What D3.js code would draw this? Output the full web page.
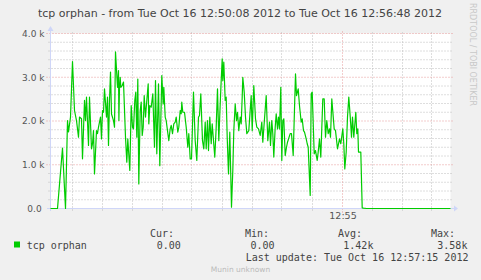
<!DOCTYPE html>
<html>
<head>
<meta charset="utf-8">
<script src="https://cdn.jsdelivr.net/npm/d3@7"></script>
<style>
  html, body { margin: 0; padding: 0; background: #f0f0f0; }
  svg { display: block; }
</style>
</head>
<body>
<div id="chart"></div>
<script>
// munin "tcp orphan" graph, 400 seconds window

const startTime = new Date(2012, 9, 16, 12, 50, 8)
const endTime = new Date(2012, 9, 16, 12, 56, 48)

// seconds after 12:50:08
const secs = [
  0, 7, 12, 15, 17, 18, 20, 22, 24, 26, 28, 29, 31, 32, 34, 35, 36, 38, 39, 41,
  42, 43, 44, 46, 47, 48, 50, 51, 52, 53, 54, 56, 57, 58, 59, 60, 61, 63, 64, 65,
  67, 68, 68.4, 69, 69.7, 70.3, 71.7, 73, 75, 76.3, 77.3, 79.3, 80.7, 82, 83, 84.3, 85.3, 86.3, 87.3, 88.3,
  89.7, 90.7, 91.7, 92.7, 93.7, 95, 96.3, 97.7, 98.3, 99.3, 100.7, 102.3, 104, 105, 106.3, 108, 109.3, 111.3, 112.7, 113.3,
  114.7, 115.7, 117, 118.3, 119.7, 120.7, 122, 123.3, 124.7, 125.7, 127.3, 128.3, 129.7, 130.7, 131.3, 132.3, 134, 135.7, 137.3, 138.3,
  139.7, 141, 143, 144.7, 146.3, 148, 149, 150.3, 152, 153.3, 154.7, 155.7, 157, 158, 159.3, 160.7, 161.7, 164.3, 165.7, 167,
  168.3, 169.7, 170.7, 171.7, 172.3, 173.3, 174.7, 175.7, 176.7, 178, 179.3, 181, 182.3, 183.3, 184.7, 186, 187, 188.3, 189.7, 190.7,
  191.7, 192.3, 193.7, 195, 196.3, 198.3, 200.7, 201.7, 203.3, 205, 206.3, 208, 209.7, 211.3, 212.3, 215.7, 217.3, 219, 220, 221.3,
  222.3, 223.3, 224.7, 225.7, 227, 228, 229, 230.3, 231.3, 232.3, 233.3, 234.7, 236, 237, 239.7, 241, 242.7, 245, 246, 247.7,
  249, 250.7, 251.7, 253, 254, 255.7, 256.7, 257.7, 259.7, 260.7, 261.7, 263.7, 265, 266.7, 267.7, 269, 270.3, 272.3, 273.7, 275,
  276.3, 277.7, 279, 280, 281.3, 283.7, 285, 287, 289, 290.3, 292.3, 293.3, 294.3, 295.7, 297, 298.3, 300, 301, 302, 303.3,
  305.3, 306.3, 307.3, 308, 310.3, 311.7, 313, 316, 400
]
const orphans = [
  0, 0, 1380, 0, 2010, 1750, 2090, 3360, 2240, 2010, 1630, 2090, 2050, 1135, 2470, 2010, 2545, 1440, 2545, 1365,
  1480, 1780, 790, 1780, 1710, 1860, 2090, 1590, 2240, 2200, 2735, 2090, 2545, 1440, 2470, 3120, 2160, 2010, 1860, 3580,
  2770, 3150, 2010, 2770, 3000, 2770, 2810, 2890, 1630, 1060, 1590, 870, 2350, 1860, 1820, 2470, 2660, 1630, 2960, 560,
  2240, 2430, 1670, 1860, 2580, 2090, 2470, 2850, 1935, 2350, 2315, 2620, 1400, 2925, 1250, 2850, 980, 3040, 2390, 2770,
  2090, 2010, 1780, 1550, 1820, 1900, 1710, 1935, 1975, 2090, 1745, 1860, 2240, 2165, 2430, 2200, 2200, 1860, 1400, 1710,
  1135, 1135, 2660, 1550, 1100, 2090, 2125, 2620, 1550, 1365, 1975, 1365, 2010, 1325, 2090, 1480, 1935, 1175, 1860, 2735,
  1550, 2390, 2925, 3420, 2925, 3345, 2470, 2545, 1630, 790, 1745, 30, 870, 1780, 2390, 2010, 2200, 1780, 2090, 1935,
  2545, 3000, 2660, 2090, 1710, 1780, 2580, 1780, 2810, 2050, 1860, 1820, 1670, 1975, 1515, 2580, 1550, 1975, 1440, 2010,
  1710, 1175, 1860, 2165, 1820, 2090, 1820, 2770, 1100, 2010, 2050, 1210, 1400, 1515, 1710, 1710, 1210, 3080, 2580, 2735,
  2350, 1975, 2050, 1780, 1745, 1590, 1480, 1400, 300, 2620, 2660, 1250, 1325, 1100, 1290, 1590, 1175, 2505, 2505, 1630,
  2010, 1710, 1820, 1630, 2505, 1820, 1780, 1365, 1590, 1480, 1820, 1480, 905, 1290, 2090, 2545, 2010, 1630, 2090, 1630,
  2200, 1710, 1820, 1290, 1290, 15, 8, 0, 0
]

const yTicks = [0, 1000, 2000, 3000, 4000]
const legendCols = ["Cur:", "Min:", "Avg:", "Max:"]
const legendVals = ["0.00", "0.00", "1.42k", "3.58k"]
const seriesName = "tcp orphan"
const seriesColor = "#00cc00"

const W = 481, H = 280

let svg = d3.select("#chart").append("svg")
    .attr("width", W)
    .attr("height", H)

svg.append("rect").attr("width", W).attr("height", H).attr("fill", "#f0f0f0")

let x = d3.scaleTime().domain([startTime, endTime]).range([50.5, 450.5])
let y = d3.scaleLinear().domain([0, 4000]).range([208.5, 33.5])

// canvas
svg.append("rect")
    .attr("x", x.range()[0]).attr("y", y.range()[1])
    .attr("width", x.range()[1] - x.range()[0])
    .attr("height", y.range()[0] - y.range()[1])
    .attr("fill", "#ffffff")

let grid = svg.append("g")
let minorY = d3.range(200, 4001, 200).filter(v => v % 1000 !== 0)
grid.selectAll(".hmin").data(minorY).join("line")
    .attr("x1", 48.5).attr("x2", 452.5)
    .attr("y1", d => y(d)).attr("y2", d => y(d))
    .attr("stroke", "#bdbdbd").attr("stroke-dasharray", "1,2")

let minorX = d3.timeSecond.every(30).range(startTime, endTime)
    .filter(d => d.getMinutes() % 5 !== 0 || d.getSeconds() !== 0)
grid.selectAll(".vmin").data(minorX).join("line")
    .attr("x1", d => Math.round(x(d)) - 0.5).attr("x2", d => Math.round(x(d)) - 0.5)
    .attr("y1", 210.5).attr("y2", 31.5)
    .attr("stroke", "#bdbdbd").attr("stroke-dasharray", "1,2")

grid.selectAll(".hmaj").data(yTicks.filter(d => d > 0)).join("line")
    .attr("x1", 46.5).attr("x2", 454.5)
    .attr("y1", d => y(d)).attr("y2", d => y(d))
    .attr("stroke", "#e69a9a").attr("stroke-dasharray", "1,2")

let majorX = d3.timeMinute.every(5).range(startTime, endTime)
grid.selectAll(".vmaj").data(majorX).join("line")
    .attr("x1", d => Math.round(x(d)) - 0.5).attr("x2", d => Math.round(x(d)) - 0.5)
    .attr("y1", 212.5).attr("y2", 31.5)
    .attr("stroke", "#e69a9a").attr("stroke-dasharray", "1,2")

// axes
let axisCol = "#cfd6f8"
svg.append("line").attr("x1", 47).attr("x2", 454).attr("y1", 208.5).attr("y2", 208.5)
    .attr("stroke", axisCol)
svg.append("line").attr("x1", 50.5).attr("x2", 50.5).attr("y1", 211).attr("y2", 30)
    .attr("stroke", axisCol)
svg.append("path").attr("d", "M454,205.5L458,208.5L454,211.5Z").attr("fill", axisCol)
svg.append("path").attr("d", "M47.5,31L50.5,26L53.5,31Z").attr("fill", axisCol)

// data line
let pts = secs.map((s, i) => [new Date(startTime.getTime() + s * 1000), orphans[i]])
let line = d3.line().x(d => x(d[0])).y(d => y(d[1]))
svg.append("path")
    .datum(pts)
    .attr("d", line)
    .attr("fill", "none")
    .attr("stroke", seriesColor)
    .attr("stroke-width", 1.2)
    .attr("stroke-linejoin", "round")

// tick labels
let yAxis = svg.append("g")
    .attr("transform", "translate(50.5,0)")
    .call(d3.axisLeft(y).tickValues(yTicks).tickSize(0).tickPadding(6)
        .tickFormat(d => d === 0 ? "0.0 " : (d / 1000).toFixed(1) + " k"))
yAxis.select(".domain").remove()
yAxis.selectAll("text")
    .attr("fill", "#555")
    .style("white-space", "pre")
    .style("font-family", "DejaVu Sans")
    .style("font-size", "9px")

let xAxis = svg.append("g")
    .attr("transform", "translate(0,208.5)")
    .call(d3.axisBottom(x).tickValues(majorX).tickSize(0).tickPadding(4)
        .tickFormat(d3.timeFormat("%H:%M")))
xAxis.select(".domain").remove()
xAxis.selectAll("text")
    .attr("fill", "#555")
    .style("font-family", "DejaVu Sans")
    .style("font-size", "9.5px")

// title
svg.append("text")
    .attr("x", 240).attr("y", 17)
    .attr("text-anchor", "middle")
    .attr("fill", "#444")
    .style("font-family", "DejaVu Sans")
    .style("font-size", "11px")
    .text("tcp orphan - from Tue Oct 16 12:50:08 2012 to Tue Oct 16 12:56:48 2012")

// watermark
svg.append("text")
    .attr("transform", "translate(470,3) rotate(90)")
    .attr("fill", "#c8c8c8")
    .style("font-family", "DejaVu Sans")
    .style("font-size", "8px")
    .text("RRDTOOL / TOBI OETIKER")

// legend
let mono = "DejaVu Sans Mono"
let colX = [150, 245, 338, 431]
let valX = [156.7, 250.5, 343.3, 437.3]
let legend = svg.append("g").style("font-family", mono).style("font-size", "10px").attr("fill", "#444")

legend.selectAll(".hdr").data(legendCols).join("text")
    .attr("x", (d, i) => colX[i]).attr("y", 237)
    .text(d => d)
legend.selectAll(".val").data(legendVals).join("text")
    .attr("x", (d, i) => valX[i]).attr("y", 248.5)
    .text(d => d)

legend.append("rect")
    .attr("x", 14).attr("y", 241.5).attr("width", 6).attr("height", 6)
    .attr("fill", seriesColor)
legend.append("text").attr("x", 26.7).attr("y", 248.5).text(seriesName)

legend.append("text").attr("x", 245.7).attr("y", 260.5)
    .text("Last update: Tue Oct 16 12:57:15 2012")

svg.append("text")
    .attr("x", 240.5).attr("y", 271.5)
    .attr("text-anchor", "middle")
    .attr("fill", "#bbbbbb")
    .style("font-family", "DejaVu Sans")
    .style("font-size", "7.5px")
    .text("Munin unknown")
</script>
</body>
</html>
